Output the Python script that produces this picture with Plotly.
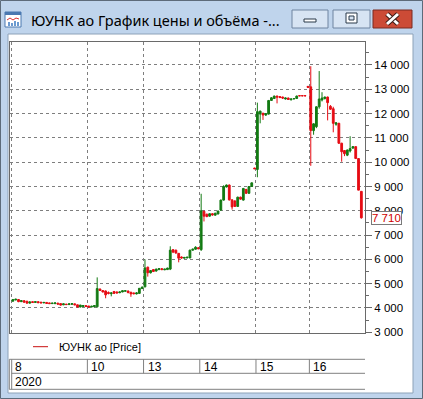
import plotly.graph_objects as go

# ---------------- data ----------------
days = ["8", "10", "13", "14", "15", "16"]
day_counts = [27, 20, 20, 20, 19, 19]
year_label = "2020"
title_text = "ЮУНК ао График цены и объёма -..."
legend_text = "ЮУНК ао [Price]"
last_price = 7710

open_ = [
    # 8
    4280, 4330, 4350, 4260, 4300, 4280, 4200, 4260, 4230, 4260, 4240, 4210, 4230, 4210,
    4180, 4180, 4200, 4180, 4130, 4160, 4140, 4150, 4170, 4130, 4040, 4060, 4100,
    # 10
    4080, 4040, 4050, 4050, 4780, 4720, 4700, 4640, 4590, 4680, 4660, 4630, 4660, 4690,
    4700, 4650, 4620, 4580, 4600, 4800,
    # 13
    4870, 5680, 5450, 5580, 5520, 5580, 5620, 5570, 5580, 5600, 6400, 6380, 6250, 6100,
    6050, 6060, 6060, 6380, 6420, 6480,
    # 14
    6400, 7980, 7860, 7780, 7880, 7820, 7870, 8030, 8440, 8980, 9060, 8450, 8400, 8180,
    8560, 8440, 8880, 8720, 9000, 9760,
    # 15
    9700, 11980, 12010, 11940, 11980, 12540, 12620, 12720, 12700, 12680, 12600, 12640,
    12570, 12600, 12620, 12740, 12740, 12740, 13120,
    # 16
    13100, 11300, 11460, 12280, 12560, 12620, 12680, 12300, 12200, 11560, 11600, 10780,
    10480, 10290, 10460, 10580, 10640, 10150, 8800,
]
high = [
    4370, 4380, 4360, 4320, 4310, 4290, 4270, 4270, 4280, 4270, 4250, 4240, 4240, 4220,
    4210, 4220, 4210, 4190, 4180, 4170, 4180, 4190, 4180, 4140, 4130, 4110, 4110,
    4090, 4090, 4110, 5260, 4800, 4740, 4720, 4680, 4640, 4700, 4680, 4680, 4720, 4720,
    4710, 4660, 4630, 4650, 4820, 4880,
    6000, 5700, 5560, 5600, 5620, 5640, 5640, 5610, 5660, 6540, 6420, 6400, 6260, 6120,
    6100, 6100, 6400, 6440, 6540, 6500,
    8700, 8000, 7880, 7900, 7900, 7920, 8000, 8460, 9050, 9080, 9080, 8470, 8440, 8580,
    8580, 8940, 8900, 9020, 9160, 9770,
    12450, 12120, 12040, 12020, 12560, 12680, 12740, 12740, 12720, 12700, 12660, 12660,
    12620, 12640, 12740, 12750, 12750, 12750, 13130,
    13950, 11600, 12300, 13750, 12880, 12700, 12700, 12350, 12280, 11650, 11620, 10800,
    10500, 10520, 11070, 10660, 10660, 10150, 8800,
]
low = [
    4270, 4320, 4240, 4250, 4220, 4180, 4190, 4220, 4220, 4200, 4200, 4200, 4180, 4170,
    4170, 4160, 4150, 4100, 4120, 4130, 4130, 4140, 4120, 4020, 4030, 4050, 4050,
    4030, 4030, 4040, 4020, 4700, 4640, 4400, 4560, 4480, 4580, 4600, 4610, 4650, 4680,
    4600, 4460, 4560, 4560, 4590, 4780,
    4850, 5290, 5420, 5480, 5500, 5560, 5560, 5560, 5570, 5560, 6260, 6240, 5880, 6030,
    6040, 6050, 6050, 6360, 6400, 6420,
    6350, 7560, 7740, 7760, 7800, 7800, 7850, 8000, 8420, 8960, 8420, 8050, 8160, 8160,
    8460, 8420, 8700, 8700, 8980, 9720,
    9380, 11600, 11740, 11900, 11960, 12520, 12600, 12420, 12640, 12600, 12580, 12560,
    12540, 12590, 12610, 12720, 12720, 12720, 13060,
    9850, 11130, 11400, 12200, 12500, 12580, 11720, 12150, 11230, 11500, 10750, 10020,
    10250, 10250, 10400, 10550, 10140, 8850, 7680,
]
close = [
    4350, 4360, 4260, 4300, 4240, 4200, 4250, 4230, 4260, 4220, 4210, 4230, 4190, 4180,
    4200, 4210, 4160, 4120, 4170, 4140, 4170, 4180, 4130, 4040, 4120, 4100, 4060,
    4040, 4070, 4100, 4800, 4720, 4660, 4540, 4600, 4620, 4600, 4620, 4660, 4710, 4710,
    4640, 4580, 4590, 4620, 4810, 4860,
    5650, 5450, 5540, 5500, 5600, 5620, 5580, 5600, 5640, 6380, 6300, 6260, 6050, 6060,
    6080, 6090, 6380, 6420, 6500, 6440,
    8000, 7780, 7760, 7880, 7830, 7900, 7990, 8440, 9000, 9060, 8450, 8160, 8180, 8560,
    8480, 8920, 8720, 9000, 9150, 9730,
    12080, 12100, 11940, 12000, 12540, 12650, 12720, 12680, 12660, 12640, 12640, 12580,
    12600, 12620, 12720, 12730, 12730, 12730, 13080,
    11300, 11580, 12280, 12600, 12640, 12680, 12450, 12180, 11600, 11620, 10780, 10430,
    10350, 10500, 10560, 10640, 10150, 8850, 7710,
]
n = sum(day_counts)
assert len(open_) == len(high) == len(low) == len(close) == n
x_idx = list(range(n))

# day boundaries (in candle index units)
bounds = []
acc = 0
for c in day_counts:
    bounds.append(acc - 0.5)
    acc += c

# ---------------- styling ----------------
GREEN = "#137a13"
RED = "#e60c14"
FRAME = "#6a6a6a"
GRID = "#7e7e7e"
FONT = "Liberation Sans"

W, H = 423, 399
ML, MR, MT, MB = 10, 58, 42, 66
PW, PH = W - ML - MR, H - MT - MB


def px(xp):
    return (xp - ML) / PW


def py(yp):
    return (H - MB - yp) / PH


fig = go.Figure()
fig.add_trace(go.Candlestick(
    x=x_idx, open=open_, high=high, low=low, close=close,
    increasing=dict(fillcolor=GREEN, line=dict(color=GREEN, width=1)),
    decreasing=dict(fillcolor=RED, line=dict(color=RED, width=1)),
    whiskerwidth=0, showlegend=False, hoverinfo="skip",
))

shapes = []
annotations = []


def rect(x0, y0, x1, y1, fill=None, line=None, lw=1, layer="below"):
    shapes.append(dict(type="rect", xref="paper", yref="paper",
                       x0=px(x0), x1=px(x1), y0=py(y0), y1=py(y1),
                       fillcolor=fill if fill else "rgba(0,0,0,0)",
                       line=dict(color=line if line else "rgba(0,0,0,0)", width=lw if line else 0),
                       layer=layer))


def hline(x0, x1, y, color, lw=1, xref="paper"):
    shapes.append(dict(type="line", xref=xref, yref="paper",
                       x0=px(x0) if xref == "paper" else x0,
                       x1=px(x1) if xref == "paper" else x1,
                       y0=py(y), y1=py(y), line=dict(color=color, width=lw), layer="above"))


def vline(x, y0, y1, color, lw=1, xref="paper"):
    xv = px(x) if xref == "paper" else x
    shapes.append(dict(type="line", xref=xref, yref="paper", x0=xv, x1=xv,
                       y0=py(y0), y1=py(y1), line=dict(color=color, width=lw), layer="above"))


# window frame
rect(0.5, 0.5, 422.5, 398.5, line="#5d6b7a", layer="below")
rect(8, 34, 413, 393, fill="white", line="#8da2b8", layer="below")

# title bar icon
rect(5, 12, 21, 27, fill="white", line="#4a78b0", layer="above")
rect(5, 12, 21, 15, fill="#4a78b0", layer="above")
shapes.append(dict(type="path", xref="paper", yref="paper",
                   path=f"M {px(7)},{py(20)} L {px(10)},{py(18)} L {px(13)},{py(20)} L {px(16)},{py(18)} L {px(19)},{py(19)}",
                   line=dict(color="#d83030", width=1), layer="above"))
for bx, bh in [(8, 4), (11, 3), (14, 5), (17, 4)]:
    rect(bx, 26 - bh, bx + 2, 26, fill="#6a9ad0", layer="above")

annotations.append(dict(text=title_text, xref="paper", yref="paper", x=px(29), y=py(19.5),
                        xanchor="left", yanchor="middle", showarrow=False,
                        font=dict(family="Noto Sans", size=14.5, color="black")))

# title bar buttons
rect(292, 10, 328, 28, fill="#d7e4f3", line="#6f84a0", layer="above")
rect(304, 19, 316, 22, fill="white", line="#283848", layer="above")
rect(333, 10, 370, 28, fill="#d7e4f3", line="#6f84a0", layer="above")
rect(346, 13, 357, 23, fill="white", line="#283848", layer="above")
rect(349, 16, 354, 20, fill="#d7e4f3", line="#283848", layer="above")
rect(373, 10, 412, 28, fill="#cc4b36", line="#7a2a20", layer="above")
for (a, b, c, d) in [(387, 14, 398, 24), (387, 24, 398, 14)]:
    shapes.append(dict(type="line", xref="paper", yref="paper", x0=px(a), y0=py(b), x1=px(c), y1=py(d),
                       line=dict(color="#3a1a14", width=5), layer="above"))
    shapes.append(dict(type="line", xref="paper", yref="paper", x0=px(a), y0=py(b), x1=px(c), y1=py(d),
                       line=dict(color="white", width=3), layer="above"))

# legend
hline(33, 48, 346.7, "#c81010", 1)
annotations.append(dict(text=legend_text, xref="paper", yref="paper", x=px(57), y=py(346.7),
                        xanchor="left", yanchor="middle", showarrow=False,
                        font=dict(family=FONT, size=11, color="black")))

# date scale box
BOX_TOP, BOX_MID, BOX_BOT = 359.3, 373.3, 389.3
hline(9.3, 365, BOX_TOP, "#808080")
hline(11.5, 365, BOX_MID, "#808080")
hline(9.3, 365, BOX_BOT, "#808080")
vline(9.3, BOX_TOP, BOX_BOT, "#808080")
vline(11.7, BOX_TOP, BOX_BOT, "#808080")
for b, lab in zip(bounds, days):
    if b > 0:
        vline(b, BOX_TOP, BOX_MID, "#808080", xref="x")
    annotations.append(dict(text=lab, xref="x", yref="paper", x=b, y=py(366.5),
                            xanchor="left", yanchor="middle", xshift=2 if b > 0 else 1.5,
                            showarrow=False, font=dict(family=FONT, size=12, color="black")))
annotations.append(dict(text=year_label, xref="paper", yref="paper", x=px(12.5), y=py(381.5),
                        xanchor="left", yanchor="middle", showarrow=False,
                        font=dict(family=FONT, size=12, color="black")))

# last price marker
annotations.append(dict(text=f"{last_price:,}".replace(",", " "), xref="paper", yref="y",
                        x=1, y=last_price, xanchor="left", yanchor="middle", xshift=6,
                        showarrow=False, bgcolor="white", bordercolor="#7a7a7a",
                        borderwidth=1, borderpad=0,
                        font=dict(family=FONT, size=11.5, color="#d00000")))

fig.update_layout(
    width=W, height=H, autosize=False,
    margin=dict(l=ML, r=MR, t=MT, b=MB, pad=0),
    paper_bgcolor="#bfd4ec", plot_bgcolor="white",
    separators=". ",
    font=dict(family=FONT, size=11, color="black"),
    boxgap=0.1,
    shapes=shapes, annotations=annotations,
    xaxis=dict(
        range=[-1.03, 125.3], rangeslider=dict(visible=False),
        tickmode="array", tickvals=bounds, showticklabels=False, ticks="",
        showgrid=True, gridcolor=GRID, gridwidth=1, griddash="3px,3px",
        showline=True, linecolor=FRAME, linewidth=1, mirror=True, zeroline=False,
        fixedrange=True,
    ),
    yaxis=dict(
        range=[2971, 14946], side="right",
        tickmode="linear", tick0=3000, dtick=1000, tickformat=",d",
        ticks="outside", ticklen=6, tickcolor=FRAME, tickwidth=1,
        minor=dict(dtick=500, tick0=3000, ticks="outside", ticklen=3, tickcolor=FRAME, showgrid=False),
        showgrid=True, gridcolor=GRID, gridwidth=1, griddash="3px,3px",
        showline=True, linecolor=FRAME, linewidth=1, mirror=True, zeroline=False,
        tickfont=dict(family=FONT, size=11.5, color="black"),
        fixedrange=True,
    ),
)

fig.write_html("out.html")
